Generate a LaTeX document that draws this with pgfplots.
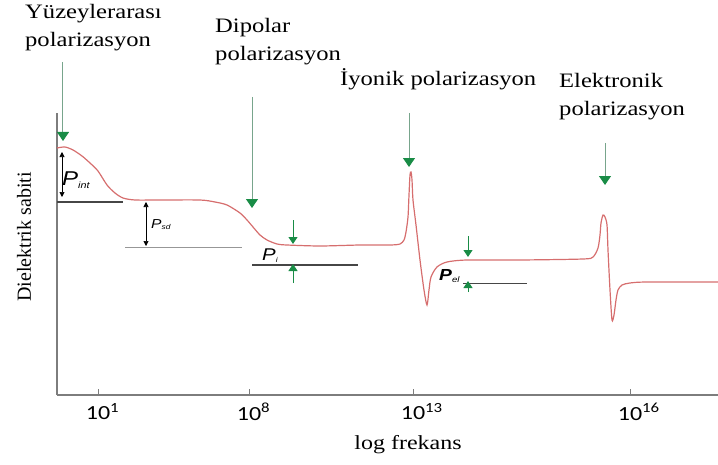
\documentclass[border=0pt]{standalone}
\usepackage{pgfplots}
\pgfplotsset{compat=1.18}
\usetikzlibrary{arrows.meta}
\usepackage{fontspec}
\setmainfont{Liberation Serif}[FakeStretch=1.2]
\newfontfamily\ylabfont{Liberation Serif}
\newfontfamily\tickfont{Carlito}[FakeStretch=1.2]
\newfontfamily\pfont{Liberation Sans}[FakeStretch=1.2]
\definecolor{curvecol}{RGB}{214,110,110}
\definecolor{axiscol}{RGB}{125,125,125}
\definecolor{arrline}{RGB}{120,165,140}
\definecolor{arrhead}{RGB}{25,140,70}
\definecolor{dark}{RGB}{70,70,70}
\tikzset{
  garrow/.style={draw=arrline, line width=1pt, -{Triangle[width=12pt,length=9pt,color=arrhead,fill=arrhead]}},
  sgarrow/.style={draw=arrhead, line width=1pt, -{Triangle[width=9pt,length=7pt,color=arrhead,fill=arrhead]}},
  barrow/.style={draw=black, line width=0.6pt, {Triangle[width=5pt,length=5pt]}-{Triangle[width=5pt,length=5pt]}},
  toplab/.style={anchor=base west, inner sep=0pt, font=\fontsize{20.5}{24}\selectfont},
}
\begin{document}
\begin{tikzpicture}
\begin{axis}[
  scale only axis, width=661pt, height=282pt,
  xmin=57, xmax=718, ymin=69, ymax=351,
  axis lines=left,
  axis line style={-, draw=axiscol, line width=1.5pt},
  ytick=\empty,
  xtick={98,249,413,630},
  xticklabels={10\rlap{\textsuperscript{1}},10\rlap{\textsuperscript{8}},10\rlap{\textsuperscript{13}},10\rlap{\textsuperscript{16}}},
  xticklabel style={font=\tickfont\fontsize{20}{24}\selectfont, inner sep=0pt, anchor=north, yshift=-8pt},
  tick align=inside, major tick length=6pt,
  tick style={draw=axiscol, line width=0.8pt},
  clip=false,
]
\addplot[curvecol, line width=1.2pt, smooth, tension=0.45] coordinates {
(57,316)(65,317)(73,314)(82,308)(90,301)(98,293)(107,279)(115,271)(123,266)(135,264)(160,264)(200,264)
(215,262)(227,259)(240,251)(247,244)(253,237)(260,229)(267,224)(277,220)(287,219)(320,218)(360,219)(390,219)
(400,220)(404,224)(406,232)(408,247)(409,269)(410,289)(411,292)(412,284)(413,264)(416,239)(420,204)(424,174)
(427,159)(429,174)(431,187)(437,197)(447,202)(467,204)(520,204)(583,205)(593,207)(598,216)(600,229)(601,241)
(603,249)(605,247)(607,239)(608,214)(610,174)(612,144)(614,149)(616,164)(618,174)(622,179)(630,181)(647,182)(718,182)
};
% top labels
\node[toplab] at (axis cs:25,445) {Yüzeylerarası};
\node[toplab] at (axis cs:25,417) {polarizasyon};
\node[toplab] at (axis cs:215,431) {Dipolar};
\node[toplab] at (axis cs:215,403) {polarizasyon};
\node[toplab] at (axis cs:340,378) {İyonik polarizasyon};
\node[toplab] at (axis cs:559,376) {Elektronik};
\node[toplab] at (axis cs:559,348) {polarizasyon};
% green arrows
\draw[garrow] (axis cs:63,402) -- (axis cs:63,323);
\draw[garrow] (axis cs:252,367) -- (axis cs:252,256);
\draw[garrow] (axis cs:409,351) -- (axis cs:409,297);
\draw[garrow] (axis cs:605,321) -- (axis cs:605,279);
% P_int
\draw[barrow] (axis cs:62,312) -- (axis cs:62,267);
\draw[dark, line width=1.6pt] (axis cs:57,262) -- (axis cs:123,262);
\node[anchor=base west, inner sep=0pt, font=\pfont\fontsize{20}{24}\selectfont] at (axis cs:62,279) {\textit{P}\textsubscript{\fontsize{9}{10}\selectfont\textit{int}}};
% P_sd
\draw[barrow] (axis cs:146,262) -- (axis cs:146,218);
\draw[axiscol!80, line width=1pt] (axis cs:125,217) -- (axis cs:242,217);
\node[anchor=base west, inner sep=0pt, font=\pfont\fontsize{13}{15}\selectfont] at (axis cs:151,236) {\textit{P}\textsubscript{\fontsize{7}{8}\selectfont\textit{sd}}};
% P_i
\draw[dark, line width=1.6pt] (axis cs:252,199) -- (axis cs:358,199);
\draw[sgarrow] (axis cs:293,244) -- (axis cs:293,220);
\draw[sgarrow] (axis cs:293,181) -- (axis cs:293,200);
\node[anchor=base west, inner sep=0pt, font=\pfont\fontsize{17}{20}\selectfont] at (axis cs:262,204) {\textit{P}\textsubscript{\fontsize{7}{8}\selectfont\textit{i}}};
% P_el
\draw[dark, line width=1pt] (axis cs:463,181) -- (axis cs:527,181);
\draw[sgarrow] (axis cs:468,228) -- (axis cs:468,207);
\draw[sgarrow] (axis cs:468,172) -- (axis cs:468,183);
\node[anchor=base west, inner sep=0pt, font=\pfont\fontsize{16}{18}\selectfont] at (axis cs:439,184) {\textbf{\textit{P}}\textsubscript{\fontsize{8}{9}\selectfont\textit{el}}};
% axis labels
\node[anchor=base, inner sep=0pt, font=\fontsize{20}{24}\selectfont] at (axis cs:408,15) {log frekans};
\node[rotate=90, inner sep=0pt, font=\ylabfont\fontsize{20}{24}\selectfont] at (axis cs:24,227) {Dielektrik sabiti};
\coordinate (bl) at (axis cs:0,0);
\coordinate (tr) at (axis cs:718,464);
\end{axis}
\pgfresetboundingbox
\path (bl) rectangle (tr);
\end{tikzpicture}
\end{document}
